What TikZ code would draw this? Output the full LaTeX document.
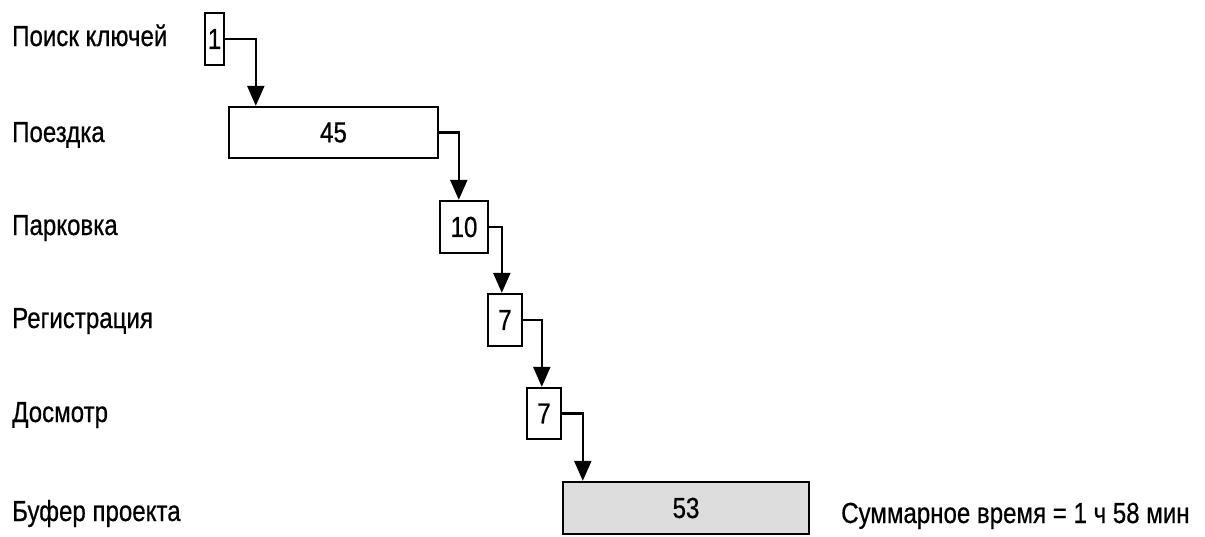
\documentclass[tikz,border=0pt]{standalone}
\usepackage{fontspec}
\setmainfont{Liberation Sans}[FakeStretch=0.83,FakeBold=0.6]
\usetikzlibrary{arrows.meta}
\definecolor{buf}{HTML}{DDDDDD}
\begin{document}
\begin{tikzpicture}[x=1pt,y=-1pt,
  lbl/.style={anchor=base west,inner sep=0pt,font=\fontsize{29}{31}\selectfont},
  task/.style={draw=black,line width=2.4pt,inner sep=0pt,font=\fontsize{29}{31}\selectfont},
  arr/.style={line width=2.4pt,-{Triangle[length=20pt,width=17pt]}}]
\useasboundingbox (0,0) rectangle (1205,536);
% labels
\node[lbl] (l1) at (12,46) {Поиск ключей};
\node[lbl] (l2) at (12,142) {Поездка};
\node[lbl] (l3) at (12,235) {Парковка};
\node[lbl] (l4) at (12,328) {Регистрация};
\node[lbl] (l5) at (12,422) {Досмотр};
\node[lbl] (l6) at (12,521) {Буфер проекта};
% tasks
\node[task,minimum width=19pt,minimum height=52pt] (b1) at (214.5,39) {1};
\node[task,minimum width=209pt,minimum height=51pt] (b2) at (333.5,132.5) {45};
\node[task,minimum width=48pt,minimum height=52pt] (b3) at (464,227) {10};
\node[task,minimum width=34pt,minimum height=52pt] (b4) at (505,320) {7};
\node[task,minimum width=34pt,minimum height=51pt] (b5) at (544,413.5) {7};
\node[task,fill=buf,minimum width=246pt,minimum height=52pt] (b6) at (686,508) {53};
\node[lbl] (sum) at (841,523) {Суммарное время = 1 ч 58 мин};
% connectors
\draw[arr] (b1.east) -| ([xshift=28pt]b2.north west);
\draw[arr] (b2.east) -| ([xshift=20pt]b3.north west);
\draw[arr] (b3.east) -| ([xshift=15pt]b4.north west);
\draw[arr] (b4.east) -| ([xshift=16pt]b5.north west);
\draw[arr] (b5.east) -| ([xshift=21pt]b6.north west);
\end{tikzpicture}
\end{document}
